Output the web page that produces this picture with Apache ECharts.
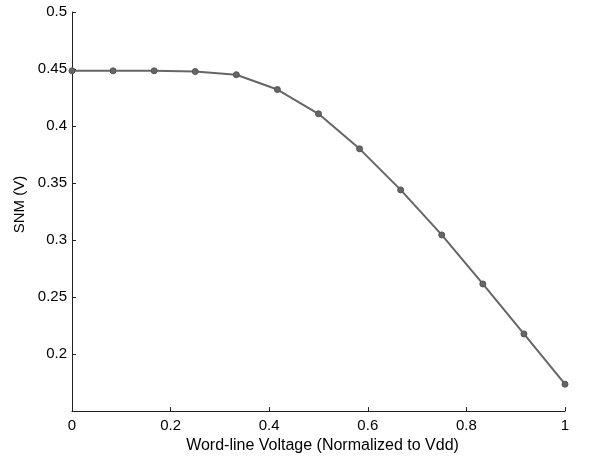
<!DOCTYPE html>
<html>
<head>
<meta charset="utf-8">
<script src="https://cdn.jsdelivr.net/npm/echarts@6/dist/echarts.min.js"></script>
<style>html,body{margin:0;padding:0;background:#fff}#c{width:605px;height:459px}</style>
</head>
<body>
<div id="c"></div>
<script>
const xValues = [0, 1/12, 2/12, 3/12, 4/12, 5/12, 6/12, 7/12, 8/12, 9/12, 10/12, 11/12, 1];
const snmValues = [0.4484, 0.4484, 0.4484, 0.4478, 0.445, 0.432, 0.4107, 0.380, 0.344, 0.3045, 0.2615, 0.2177, 0.1736];
const xTitle = 'Word-line Voltage (Normalized to Vdd)';
const yTitle = 'SNM (V)';

const chart = echarts.init(document.getElementById('c'), null, {renderer: 'canvas'});
const font = 'Liberation Sans, Arial, Helvetica, sans-serif';
const axisCommon = {
  axisLine: {show: true, lineStyle: {color: '#222', width: 1}},
  axisTick: {show: true, inside: true, length: 4, lineStyle: {color: '#222'}},
  splitLine: {show: false},
  axisLabel: {color: '#000', fontSize: 15, fontFamily: font}
};
chart.setOption({
  animation: false,
  backgroundColor: '#fff',
  grid: {left: 72, right: 40, top: 12, bottom: 47, containLabel: false},
  xAxis: Object.assign({}, axisCommon, {
    type: 'value', min: 0, max: 1, interval: 0.2,
    name: xTitle, nameLocation: 'middle', nameGap: 22,
    nameTextStyle: {color: '#000', fontSize: 16, fontFamily: font, padding: [0, 0, 0, 8]},
    axisLabel: Object.assign({}, axisCommon.axisLabel, {margin: 7})
  }),
  yAxis: Object.assign({}, axisCommon, {
    type: 'value', min: 0.15, max: 0.5, interval: 0.05,
    name: yTitle, nameLocation: 'middle', nameGap: 44,
    nameTextStyle: {color: '#000', fontSize: 15, fontFamily: font, padding: [0, 0, 0, 14]},
    axisLabel: Object.assign({}, axisCommon.axisLabel, {margin: 5, showMinLabel: false,
      formatter: v => String(+v.toFixed(2))})
  }),
  series: [{
    type: 'line',
    data: xValues.map((x, i) => [x, snmValues[i]]),
    symbol: 'circle', symbolSize: 6,
    lineStyle: {color: '#666', width: 2},
    itemStyle: {color: '#666', borderColor: '#555', borderWidth: 1}
  }]
});
</script>
</body>
</html>
